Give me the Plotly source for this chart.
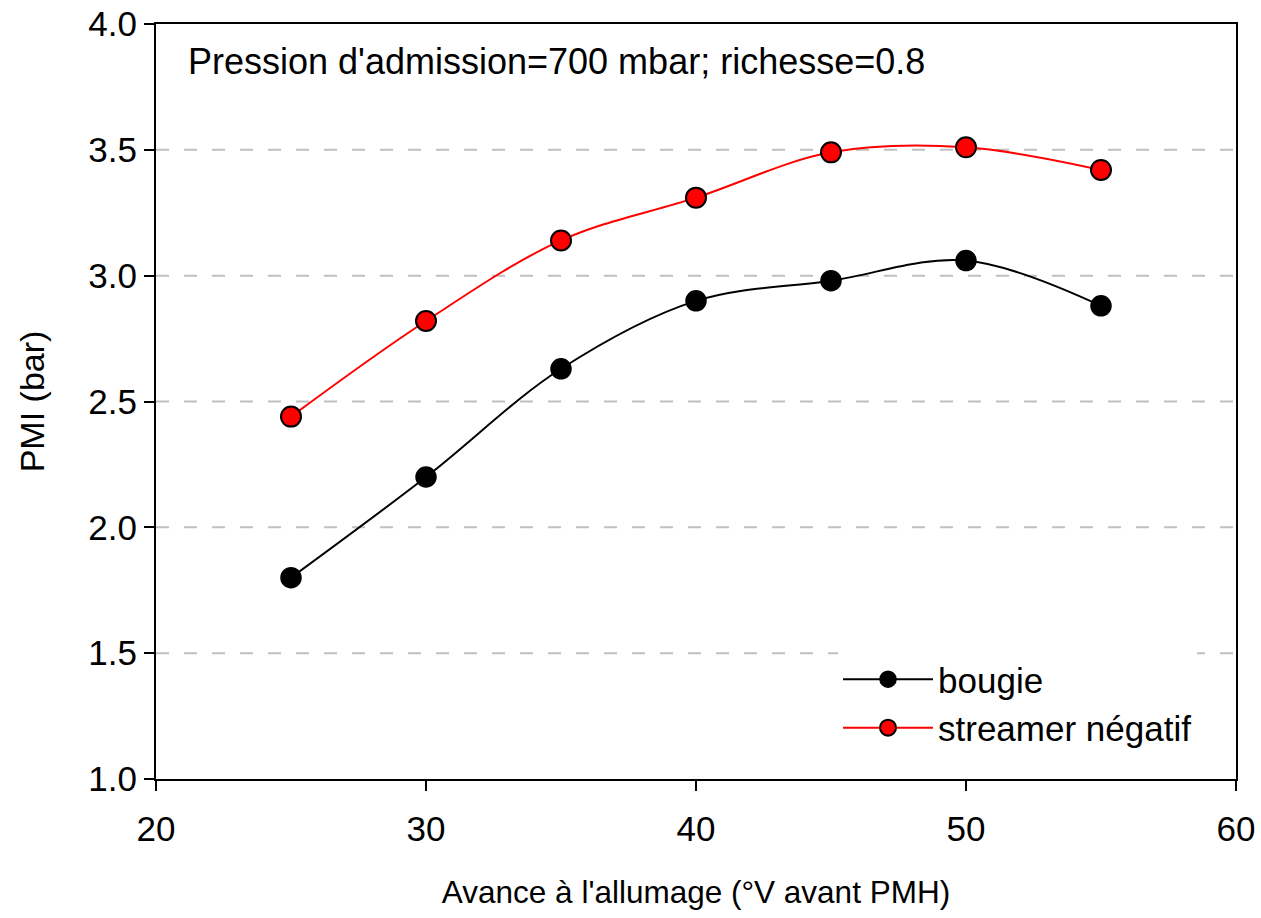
import plotly.graph_objects as go

avance = [25, 30, 35, 40, 45, 50, 55]
pmi_bougie = [1.80, 2.20, 2.63, 2.90, 2.98, 3.06, 2.88]
pmi_streamer = [2.44, 2.82, 3.14, 3.31, 3.49, 3.51, 3.42]

x_ticks = [20, 30, 40, 50, 60]
y_ticks = [1.0, 1.5, 2.0, 2.5, 3.0, 3.5, 4.0]
y_ticklabels = ["1.0", "1.5", "2.0", "2.5", "3.0", "3.5", "4.0"]
grid_levels = [1.5, 2.0, 2.5, 3.0, 3.5]

FONT = "Liberation Sans, Arial, sans-serif"

fig = go.Figure()

# dashed grid lines (only interior levels)
for g in grid_levels:
    fig.add_shape(type="line", xref="paper", yref="y", x0=0, x1=1, y0=g, y1=g,
                  line=dict(color="#c0c0c0", width=2, dash="13px,15px"), layer="below")

fig.add_trace(go.Scatter(
    x=avance, y=pmi_bougie, name="bougie", mode="lines+markers",
    line=dict(color="black", width=2, shape="spline", smoothing=1),
    marker=dict(color="black", size=20, line=dict(color="black", width=1.5)),
))
fig.add_trace(go.Scatter(
    x=avance, y=pmi_streamer, name="streamer négatif", mode="lines+markers",
    line=dict(color="#ff0000", width=2, shape="spline", smoothing=1),
    marker=dict(color="#ff0000", size=20, line=dict(color="black", width=2)),
))

fig.add_annotation(
    text="Pression d'admission=700 mbar; richesse=0.8",
    xref="paper", yref="paper", x=0.0278, y=0.95, xanchor="left", yanchor="middle",
    showarrow=False, font=dict(family=FONT, size=36, color="black"),
)

fig.update_layout(
    width=1261, height=918,
    margin=dict(l=156, r=25, t=24, b=139),
    paper_bgcolor="white", plot_bgcolor="white",
    font=dict(family=FONT, color="black"),
    showlegend=True,
    legend=dict(
        x=0.6315, y=0.171, xanchor="left", yanchor="top",
        bgcolor="white", borderwidth=0,
        font=dict(family=FONT, size=35, color="black"),
        itemwidth=90, tracegroupgap=0,
    ),
)

fig.update_xaxes(
    range=[20, 60], tickvals=x_ticks, ticktext=[str(v) for v in x_ticks],
    showgrid=False, zeroline=False,
    showline=True, linecolor="black", linewidth=2, mirror=True,
    ticks="outside", ticklen=10, tickwidth=2, tickcolor="black",
    ticklabelstandoff=8,
    tickfont=dict(family=FONT, size=35, color="black"),
    title=dict(text="Avance à l'allumage (°V avant PMH)", standoff=34,
               font=dict(family=FONT, size=31.5, color="black")),
    automargin=False,
)
fig.update_yaxes(
    range=[1.0, 4.0], tickvals=y_ticks, ticktext=y_ticklabels,
    showgrid=False, zeroline=False,
    showline=True, linecolor="black", linewidth=2, mirror=True,
    ticks="outside", ticklen=10, tickwidth=2, tickcolor="black",
    tickfont=dict(family=FONT, size=35, color="black"),
    title=dict(text="PMI (bar)", standoff=33,
               font=dict(family=FONT, size=34, color="black")),
    automargin=False,
)

fig.write_html("out.html")
